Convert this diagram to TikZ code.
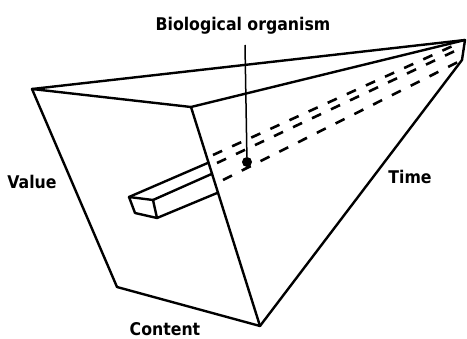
\documentclass[tikz,border=0pt]{standalone}
\usepackage{fontspec}
\setmainfont{DejaVu Sans Condensed}
\usetikzlibrary{calc}

\begin{document}
\begin{tikzpicture}[x=1pt,y=-1pt,every node/.style={inner sep=0pt,font=\bfseries\fontsize{17.5}{20}\selectfont},rim/.style={line width=2.4pt,line join=round,line cap=round},hid/.style={line width=2.6pt,dash pattern=on 10pt off 11pt},pointer/.style={line width=1.5pt}]
	\useasboundingbox (0,0) rectangle (467,339);
	\coordinate (A) at (32,89);
	\coordinate (B) at (191,107);
	\coordinate (C) at (260,326);
	\coordinate (D) at (117,287);
	\coordinate (E) at (465,40);
	\coordinate (F) at (462,60);
	\draw[rim] (A) -- (B) -- (C) -- (D) -- cycle;
	\draw[rim] (A) -- (E) -- (F) -- (C);
	\draw[rim] (B) -- (E);
	\draw[hid] (213,155) -- (457,44);
	\draw[hid] (217,163) -- (457,50);
	\draw[hid] (223,180) -- (458,62);
	\coordinate (P1) at (129,197);
	\coordinate (P2) at (153,200);
	\coordinate (P3) at (157,218);
	\coordinate (P4) at (135,213);
	\draw[rim,fill=white] (P1) -- (P2) -- (P3) -- (P4) -- cycle;
	\draw[rim] (P1) -- ($(B)!0.254!(C)$);
	\draw[rim] (P2) -- ($(B)!0.305!(C)$);
	\draw[rim] (P3) -- ($(B)!0.391!(C)$);
	\node[circle,fill,minimum size=10pt] (dot) at (247,162) {};
	\coordinate (tip) at (245,45);
	\draw[pointer] (tip) -- (dot);
	\node[anchor=base] (org) at (243,31) {Biological organism};
	\node[anchor=base] (val) at (32,189) {Value};
	\node[anchor=base] (tim) at (410,184) {Time};
	\node[anchor=base] (con) at (165,336) {Content};
\end{tikzpicture}
\end{document}
